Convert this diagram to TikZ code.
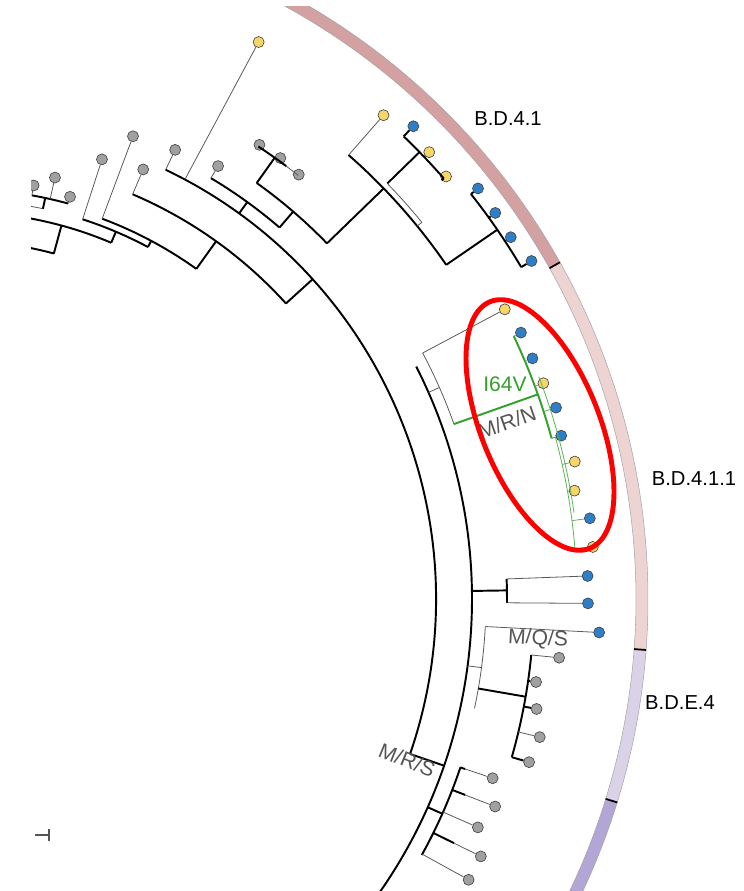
\documentclass[tikz,border=0pt]{standalone}
\usepackage{fontspec}
\setmainfont{Liberation Sans}
\definecolor{lgray}{HTML}{A0A0A0}
\definecolor{lyel}{HTML}{F8D568}
\definecolor{lblu}{HTML}{2F7FC8}
\definecolor{ringa}{HTML}{D3A1A2}
\definecolor{ringb}{HTML}{EED3D3}
\definecolor{ringc}{HTML}{DAD3E8}
\definecolor{ringd}{HTML}{B2A6D6}
\definecolor{clgreen}{HTML}{34A02C}
\definecolor{labgray}{HTML}{555555}

\begin{document}
\begin{tikzpicture}[x=0.02cm,y=0.02cm,
  br/.style={line width=1.1pt,black},
  tn/.style={line width=0.45pt,black!65},
  gbr/.style={line width=1.1pt,clgreen},
  gtn/.style={line width=0.45pt,clgreen!80},
  leaf/.style={circle,draw=black!75,line width=0.35pt,inner sep=0pt,minimum size=0.22cm},
  seg/.style={draw=black!35,line width=0.3pt},
  clade/.style={font=\fontsize{11.5}{13}\selectfont},
  mut/.style={inner sep=0.5pt,font=\fontsize{12}{14}\selectfont}]

\useasboundingbox (0,0) rectangle (743,891);

%scale bar
\draw[labgray,line width=0.8pt] (35,56)--(49,56); \draw[labgray,line width=0.8pt] (49,50)--(49,62);

\begin{scope}
\clip (31,0) rectangle (743,884);
\begin{scope}[shift={(-40,292)}]
\coordinate (C) at (0,0);

%Ring
\draw[seg,fill=ringa] (75:676) arc[start angle=75,end angle=29.3,radius=676]--(29.3:688) arc[start angle=29.3,end angle=75,radius=688]--cycle;
\draw[seg,fill=ringb] (29.3:676) arc[start angle=29.3,end angle=-4.25,radius=676]--(-4.25:688) arc[start angle=-4.25,end angle=29.3,radius=688]--cycle;
\draw[seg,fill=ringc] (-4.25:676) arc[start angle=-4.25,end angle=-17.2,radius=676]--(-17.2:688) arc[start angle=-17.2,end angle=-4.25,radius=688]--cycle;
\draw[seg,fill=ringd] (-17.2:676) arc[start angle=-17.2,end angle=-40,radius=676]--(-40:688) arc[start angle=-40,end angle=-17.2,radius=688]--cycle;
\draw[line width=1pt] (29.3:676)--(29.3:688); \draw[line width=1pt] (-4.25:676)--(-4.25:688); \draw[line width=1pt] (-17.2:676)--(-17.2:688);

%Tips
\node[leaf,fill=lgray] (t0) at (79.9:420) {}; \node[leaf,fill=lgray] (t1) at (77.3:432) {}; \node[leaf,fill=lgray] (t2) at (74.7:417) {};
\node[leaf,fill=lgray] (t3) at (72.1:462) {}; \node[leaf,fill=lgray] (t4) at (69.5:494) {}; \node[leaf,fill=lgray] (t5) at (66.9:467) {};
\node[leaf,fill=lgray] (t6) at (64.4:498) {}; \node[leaf,fill=lyel] (t7) at (61.8:632) {}; \node[leaf,fill=lgray] (t8) at (59.2:504) {};
\node[leaf,fill=lgray] (t9) at (56.6:544) {}; \node[leaf,fill=lgray] (t10) at (54.0:545) {}; \node[leaf,fill=lgray] (t11) at (51.4:543) {};
\node[leaf,fill=lyel] (t12) at (48.8:643) {}; \node[leaf,fill=lblu] (t13) at (46.2:655) {}; \node[leaf,fill=lyel] (t14) at (43.6:648) {};
\node[leaf,fill=lyel] (t15) at (41.0:644) {}; \node[leaf,fill=lblu] (t16) at (38.4:661) {}; \node[leaf,fill=lblu] (t17) at (35.8:660) {};
\node[leaf,fill=lblu] (t18) at (33.3:659) {}; \node[leaf,fill=lblu] (t19) at (30.6:664) {};
\node[leaf,fill=lyel] (t20) at (28.0:617) {}; \node[leaf,fill=lblu] (t21) at (25.4:621) {}; \node[leaf,fill=lblu] (t22) at (22.8:621) {};
\node[leaf,fill=lyel] (t23) at (20.3:622) {}; \node[leaf,fill=lblu] (t24) at (17.8:626) {}; \node[leaf,fill=lblu] (t25) at (15.2:623) {};
\node[leaf,fill=lyel] (t26) at (12.6:630) {}; \node[leaf,fill=lyel] (t27) at (10.0:624) {}; \node[leaf,fill=lblu] (t28) at (7.3:635) {};
\node[leaf,fill=lyel] (t29) at (4.7:635) {};
\node[leaf,fill=lblu] (t30) at (2.1:628) {}; \node[leaf,fill=lblu] (t31) at (-0.4:628) {}; \node[leaf,fill=lblu] (t32) at (-3.0:640) {};
\node[leaf,fill=lgray] (t33) at (-5.6:602) {}; \node[leaf,fill=lgray] (t34) at (-8.2:582) {}; \node[leaf,fill=lgray] (t35) at (-10.8:587) {};
\node[leaf,fill=lgray] (t36) at (-13.4:596) {}; \node[leaf,fill=lgray] (t37) at (-16.0:592) {};
\node[leaf,fill=lgray] (t38) at (-18.6:562) {}; \node[leaf,fill=lgray] (t39) at (-21.2:574) {}; \node[leaf,fill=lgray] (t40) at (-23.8:566) {};
\node[leaf,fill=lgray] (t41) at (-26.3:581) {}; \node[leaf,fill=lgray] (t42) at (-28.9:581) {};

%First group
\draw[br] (86:358) arc[start angle=86,end angle=74.8,radius=358]; \draw[br] (74.8:358)--(74.8:387);
\draw[br] (84:387) arc[start angle=84,end angle=67,radius=387];
\draw[tn] (86:399) arc[start angle=86,end angle=78,radius=399]; \draw[br] (78:399)--(78:410);
\draw[br] (79.9:410) arc[start angle=79.9,end angle=74.7,radius=410];
\draw[tn] (79.9:410)--(t0); \draw[tn] (77.3:410)--(t1); \draw[tn] (74.7:410)--(t2);
\draw[br] (67:387)--(67:399); \draw[br] (72.1:399) arc[start angle=72.1,end angle=61.9,radius=399]; \draw[tn] (72.1:399)--(t3);
\draw[br] (61.9:399)--(61.9:406); \draw[br] (69.5:406) arc[start angle=69.5,end angle=54.4,radius=406]; \draw[tn] (69.5:406)--(t4);
\draw[br] (54.4:406)--(54.4:440); \draw[br] (66.9:440) arc[start angle=66.9,end angle=42.2,radius=440]; \draw[tn] (66.9:440)--(t5);
\draw[br] (42.2:440)--(42.2:476); \draw[br] (64.4:476) arc[start angle=64.4,end angle=-19,radius=476]; \draw[tn] (64.4:476)--(t6);
\draw[tn] (61.8:476)--(t7);
\draw[br] (54.1:476)--(54.1:490); \draw[br] (59.2:490) arc[start angle=59.2,end angle=49.3,radius=490]; \draw[tn] (59.2:490)--(t8);
\draw[br] (49.3:490)--(49.3:511); \draw[br] (54.5:511) arc[start angle=54.5,end angle=44.1,radius=511];
\draw[br] (54.5:511)--(54.5:542); \draw[br] (56.6:542) arc[start angle=56.6,end angle=53,radius=542]; \draw[tn] (53:542) arc[start angle=53,end angle=51.4,radius=542];

%Upper cluster
\draw[br] (44.1:511)--(44.1:590); \draw[br] (48.8:590) arc[start angle=48.8,end angle=34.5,radius=590]; \draw[tn] (48.8:590)--(t12);
\draw[tn] (44.1:596) arc[start angle=44.1,end angle=39.2,radius=596]; \draw[tn] (39.2:590)--(39.2:596);
\draw[br] (44.2:596)--(44.2:641); \draw[br] (46.2:641) arc[start angle=46.2,end angle=41.0,radius=641];
\draw[br] (46.2:641)--(t13); \draw[br] (43.6:641)--(t14); \draw[br] (41.0:641)--(t15);
\draw[br] (34.5:590)--(34.5:652); \draw[br] (38.4:652) arc[start angle=38.4,end angle=30.6,radius=652];
\draw[br] (38.4:652)--(t16); \draw[br] (35.8:652)--(t17); \draw[br] (33.3:652)--(t18); \draw[br] (30.6:652)--(t19);

%Middle
\draw[br] (-19:476)--(-19:512); \draw[br] (27:512) arc[start angle=27,end angle=-40,radius=512];
\draw[tn] (23.8:512)--(23.8:524); \draw[tn] (28:524) arc[start angle=28,end angle=19.5,radius=524]; \draw[tn] (28:524)--(t20);

%Green clade
\draw[gbr] (19.5:524)--(19.5:613); \draw[gbr] (25.4:613) arc[start angle=25.4,end angle=15.2,radius=613];
\draw[gtn] (25.4:613)--(t21); \draw[gtn] (22.8:613)--(t22); \draw[gtn] (20.3:613)--(t23); \draw[gtn] (17.8:613)--(t24); \draw[gtn] (15.2:613)--(t25);
\draw[gtn] (15.2:613)--(15.2:617); \draw[gtn] (15.2:617) arc[start angle=15.2,end angle=4.7,radius=617];
\draw[gtn] (21:620) arc[start angle=21,end angle=8,radius=620];
\draw[gtn] (12.6:617)--(t26); \draw[gtn] (10.0:617)--(t27); \draw[gtn] (7.3:617)--(t28); \draw[gtn] (4.7:617)--(t29);

%Lower blue
\draw[br] (0.9:512)--(0.9:547); \draw[br] (2.1:547) arc[start angle=2.1,end angle=-0.4,radius=547];
\draw[tn] (2.1:547)--(t30); \draw[tn] (-0.4:547)--(t31);
\draw[tn] (-7.5:512)--(-7.5:526); \draw[tn] (-3:526) arc[start angle=-3,end angle=-12,radius=526]; \draw[tn] (-3:526)--(t32);

%Gray clusters
\draw[br] (-9.8:526)--(-9.8:574); \draw[br] (-5.6:574) arc[start angle=-5.6,end angle=-16,radius=574];
\draw[tn] (-5.6:574)--(t33); \draw[br] (-8.2:574)--(t34); \draw[br] (-10.8:574)--(t35); \draw[tn] (-13.4:574)--(t36); \draw[br] (-16:574)--(t37);
\draw[br] (-24:512)--(-24:528); \draw[br] (-18.6:528) arc[start angle=-18.6,end angle=-29,radius=528];
\draw[br] (-18.6:528)--(-18.6:533); \draw[tn] (-18.6:533)--(t38); \draw[br] (-21.2:528)--(-21.2:542); \draw[tn] (-21.2:542)--(t39);
\draw[tn] (-23.8:528)--(t40); \draw[br] (-26.3:528)--(-26.3:551); \draw[tn] (-26.3:551)--(t41); \draw[tn] (-28.9:528)--(t42);
\end{scope}
\end{scope}

\node[clade] (lbA) at (508,772) {B.D.4.1};
\node[clade] (lbB) at (694,412) {B.D.4.1.1};
\node[clade] (lbC) at (680,188) {B.D.E.4};
\node[mut,text=clgreen] (mutA) at (505,507) {I64V};
\node[mut,text=labgray,rotate=19.5] (mutB) at (507,469) {M/R/N};
\node[mut,text=labgray,rotate=-3] (mutC) at (538,252) {M/Q/S};
\node[mut,text=labgray,rotate=-22] (mutD) at (407,131) {M/R/S};

%Red ellipse
\draw[red,line width=2.8pt,rotate around={-68:(540,466)}] (540,466) ellipse [x radius=133,y radius=59];
\end{tikzpicture}
\end{document}
